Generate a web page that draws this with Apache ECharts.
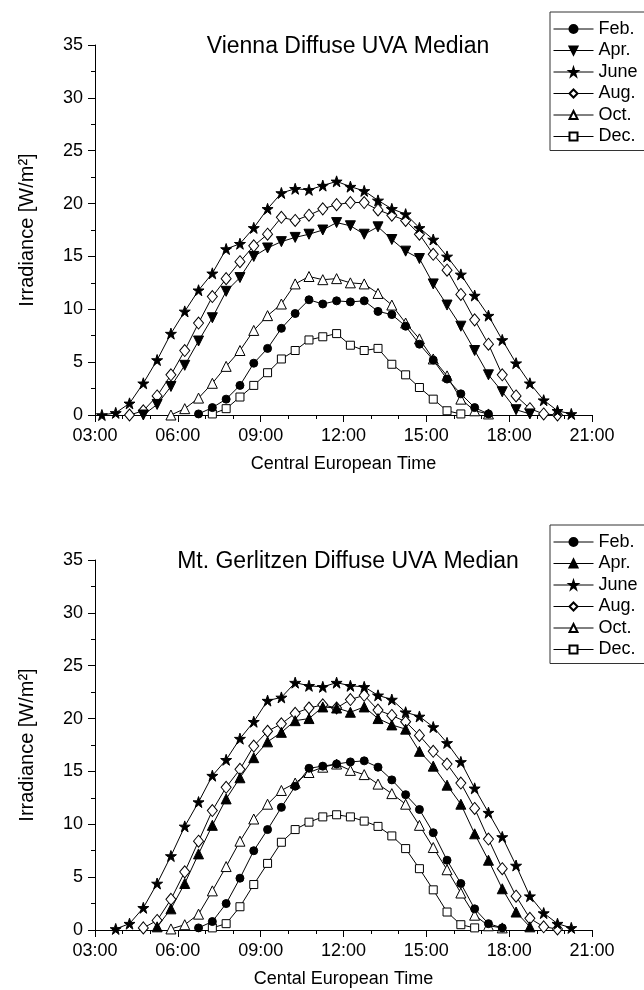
<!DOCTYPE html>
<html>
<head>
<meta charset="utf-8">
<script src="https://cdn.jsdelivr.net/npm/echarts@6/dist/echarts.min.js"></script>
<style>
html,body{margin:0;padding:0;background:#fff;}
#chart{width:644px;height:990px;}
</style>
</head>
<body>
<div id="chart"></div>
<script>
// ---- Data ----
const _ = null;
// Measurement times (decimal hours, CET), half-hourly
const TIMES = [3.25,3.75,4.25,4.75,5.25,5.75,6.25,6.75,7.25,7.75,8.25,8.75,9.25,9.75,10.25,10.75,11.25,11.75,12.25,12.75,13.25,13.75,14.25,14.75,15.25,15.75,16.25,16.75,17.25,17.75,18.25,18.75,19.25,19.75,20.25];
const X_TICKS = [3,6,9,12,15,18,21];
const X_TICK_LABELS = ['03:00','06:00','09:00','12:00','15:00','18:00','21:00'];
const MONTHS = ['Feb.','Apr.','June','Aug.','Oct.','Dec.'];

const TITLE_TOP = 'Vienna Diffuse UVA Median';
const TITLE_BOTTOM = 'Mt. Gerlitzen Diffuse UVA Median';
const XNAME_TOP = 'Central European Time';
const XNAME_BOTTOM = 'Cental European Time';
const YNAME = 'Irradiance [W/m\u00B2]';

// Vienna
const viennaFeb  = [_,_,_,_,_,_,_,0.1,0.7,1.5,2.8,4.9,6.3,8.2,9.6,10.9,10.5,10.8,10.7,10.8,9.8,9.5,8.4,6.7,5.2,3.4,2.0,0.7,0.1,_,_,_,_,_,_];
const viennaApr  = [_,_,_,0,1.0,2.7,4.7,7.0,9.2,11.7,13.0,15.0,15.8,16.4,16.8,17.1,17.5,18.2,17.9,17.1,17.8,16.6,15.5,14.8,12.4,10.4,8.4,6.1,3.8,2.2,0.5,0.1,_,_,_];
const viennaJune = [0,0.2,1.1,3.0,5.2,7.7,9.8,11.8,13.4,15.7,16.2,17.7,19.5,21.0,21.4,21.3,21.7,22.1,21.6,21.2,20.3,19.5,19.0,17.7,16.6,15.0,13.3,11.3,9.4,7.1,4.9,3.0,1.4,0.4,0.1];
const viennaAug  = [_,_,0,0.4,1.8,3.8,6.1,8.7,11.2,12.9,14.5,16.0,17.1,18.7,18.4,18.9,19.5,19.9,20.1,20.1,19.4,18.9,18.4,17.1,15.2,13.7,11.4,9.0,6.7,3.8,1.8,0.6,0.1,0,_];
const viennaOct  = [_,_,_,_,_,0,0.6,1.6,3.0,4.6,6.1,8.0,9.4,10.5,12.4,13.1,12.8,12.9,12.5,12.4,11.5,10.4,8.7,7.2,5.3,3.7,1.5,0.4,0.1,_,_,_,_,_,_];
const viennaDec  = [_,_,_,_,_,_,_,_,0.1,0.6,1.7,2.8,4.0,5.3,6.1,7.1,7.4,7.7,6.6,6.1,6.3,4.8,3.8,2.6,1.5,0.4,0.1,_,_,_,_,_,_,_,_];

// Mt. Gerlitzen
const gerlFeb  = [_,_,_,_,_,_,_,0.2,0.8,2.5,4.9,7.5,9.5,11.6,13.6,15.3,15.5,15.7,15.9,16.0,15.4,14.2,12.8,11.4,9.2,6.6,4.4,2.0,0.6,0.2,_,_,_,_,_];
const gerlApr  = [_,_,_,_,0.3,2.0,4.4,7.2,9.9,12.4,14.4,16.3,17.8,18.7,19.8,20.0,21.1,21.0,20.6,21.1,20.0,19.4,19.0,16.9,15.5,13.7,11.9,9.1,6.6,3.9,1.7,0.3,_,_,_];
const gerlJune = [_,0.1,0.6,2.1,4.4,7.0,9.8,12.1,14.6,16.1,18.1,19.7,21.7,22.0,23.4,23.1,23.0,23.4,23.1,23.0,22.2,21.8,20.6,20.2,19.2,17.7,15.9,13.4,11.1,8.8,6.1,3.2,1.6,0.6,0.2];
const gerlAug  = [_,_,_,0.2,0.9,2.9,5.5,8.4,11.3,13.5,15.2,17.4,18.8,19.5,20.5,21.0,21.3,21.0,21.8,22.2,20.8,20.3,19.7,18.4,16.9,15.7,13.9,11.5,8.6,5.8,3.2,1.1,0.3,0.1,_];
const gerlOct  = [_,_,_,_,_,0.1,0.5,1.5,3.7,6.0,8.4,10.5,11.9,13.2,13.9,14.9,15.4,15.7,15.1,14.7,13.8,12.9,11.9,9.9,7.8,5.7,3.5,1.4,0.4,0.2,_,_,_,_,_];
const gerlDec  = [_,_,_,_,_,_,_,_,0.2,0.6,2.2,4.3,6.3,8.3,9.5,10.2,10.7,10.9,10.7,10.3,9.8,8.9,7.7,5.8,3.8,1.7,0.5,0.2,_,_,_,_,_,_,_];

// ---- Styling ----
const FONT = 'Liberation Sans, Arial, Helvetica, sans-serif';
const STAR = 'path://M50,0 L61.8,35.1 L98.1,35.1 L68.8,56.7 L79.4,90.9 L50,69.1 L20.6,90.9 L31.2,56.7 L1.9,35.1 L38.2,35.1 Z';

function markerStyle(month, panel){
  switch(month){
    case 'Feb.': return {symbol:'circle', size:8, fill:'#000'};
    case 'Apr.': return panel===0 ? {symbol:'triangle', size:10, rotate:180, fill:'#000'} : {symbol:'triangle', size:10, fill:'#000'};
    case 'June': return {symbol:STAR, size:11, fill:'#000'};
    case 'Aug.': return {symbol:'diamond', size:[10,12], fill:'#fff'};
    case 'Oct.': return {symbol:'triangle', size:10, fill:'#fff'};
    case 'Dec.': return {symbol:'rect', size:8, fill:'#fff'};
  }
}

function pairs(arr){
  const out = [];
  for (let i=0;i<TIMES.length;i++){ if (arr[i]!==null) out.push([TIMES[i], arr[i]]); }
  return out;
}

const panels = [
  {data:[viennaFeb,viennaApr,viennaJune,viennaAug,viennaOct,viennaDec], suffix:''},
  {data:[gerlFeb,gerlApr,gerlJune,gerlAug,gerlOct,gerlDec], suffix:' '}
];

const series = [];
panels.forEach((p, pi)=>{
  MONTHS.forEach((m, mi)=>{
    const ms = markerStyle(m, pi);
    series.push({
      type:'line',
      name: m + p.suffix,
      xAxisIndex: pi, yAxisIndex: pi,
      data: pairs(p.data[mi]),
      symbol: ms.symbol,
      symbolSize: ms.size,
      symbolRotate: ms.rotate || 0,
      showAllSymbol: true,
      lineStyle:{color:'#000', width:1},
      itemStyle:{color: ms.fill, borderColor:'#000', borderWidth:1, opacity:1},
      emphasis:{disabled:true},
      z: 10 - mi,
      animation:false
    });
  });
});

const GRID_TOPS = [45, 560];
const grids = GRID_TOPS.map(t=>({left:95, right:52, top:t, height:370, containLabel:false}));

function xAxis(i, name){
  return {
    type:'value', gridIndex:i, min:3, max:21, interval:3,
    name:name, nameLocation:'middle', nameGap:40,
    nameTextStyle:{fontFamily:FONT, fontSize:18, color:'#000'},
    axisLine:{show:true, onZero:false, lineStyle:{color:'#000', width:1}},
    axisTick:{show:true, inside:false, length:7, lineStyle:{color:'#000'}},
    minorTick:{show:true, splitNumber:3, length:4, lineStyle:{color:'#000'}},
    splitLine:{show:false},
    axisLabel:{fontFamily:FONT, fontSize:18, color:'#000', margin:12,
      formatter:(v)=>{ const k = X_TICKS.indexOf(v); return k>=0 ? X_TICK_LABELS[k] : ''; }}
  };
}
function yAxis(i){
  return {
    type:'value', gridIndex:i, min:0, max:35, interval:5,
    name:YNAME, nameLocation:'middle', nameGap:58, nameRotate:90,
    nameTextStyle:{fontFamily:FONT, fontSize:20, color:'#000'},
    axisLine:{show:true, lineStyle:{color:'#000', width:1}},
    axisTick:{show:true, inside:false, length:7, lineStyle:{color:'#000'}},
    minorTick:{show:true, splitNumber:2, length:4, lineStyle:{color:'#000'}},
    splitLine:{show:false},
    axisLabel:{fontFamily:FONT, fontSize:18, color:'#000', margin:12}
  };
}

function legend(pi, top){
  return {
    orient:'vertical', left:550, top:top,
    data: MONTHS.map(m=>m+panels[pi].suffix),
    itemWidth:40, itemHeight:10, itemGap:3.5,
    padding:[8,10,5,3],
    borderColor:'#333', borderWidth:1, backgroundColor:'#fff',
    lineStyle:{width:1, color:'#000'},
    textStyle:{fontFamily:FONT, fontSize:18, color:'#000'},
    selectedMode:false
  };
}

const option = {
  backgroundColor:'#fff',
  animation:false,
  title:[
    {text:TITLE_TOP, left:348, top:35, textAlign:'center', padding:0,
     textStyle:{fontFamily:FONT, fontSize:23, fontWeight:'normal', color:'#000'}},
    {text:TITLE_BOTTOM, left:348, top:550, textAlign:'center', padding:0,
     textStyle:{fontFamily:FONT, fontSize:23, fontWeight:'normal', color:'#000'}}
  ],
  legend:[legend(0, 12), legend(1, 525)],
  grid:grids,
  xAxis:[xAxis(0, XNAME_TOP), xAxis(1, XNAME_BOTTOM)],
  yAxis:[yAxis(0), yAxis(1)],
  series:series
};

const chart = echarts.init(document.getElementById('chart'), null, {renderer:'canvas'});
chart.setOption(option);
</script>
</body>
</html>
